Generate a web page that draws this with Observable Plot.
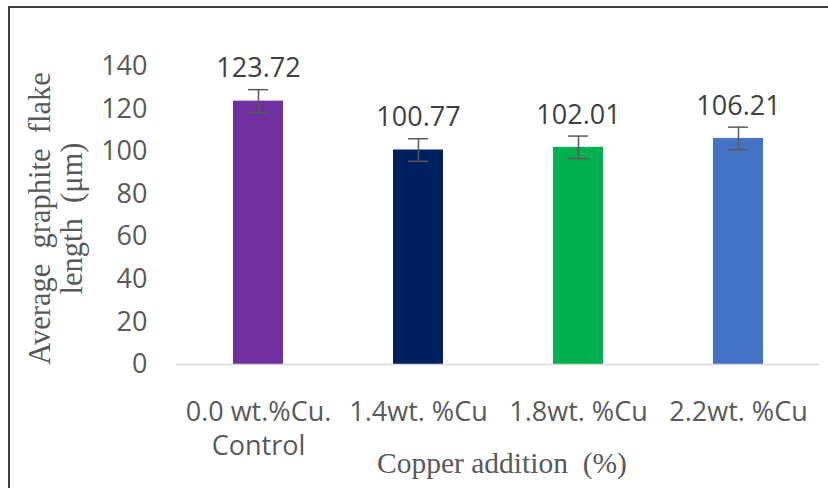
<!DOCTYPE html>
<html><head><meta charset="utf-8">
<script src="https://cdn.jsdelivr.net/npm/d3@7"></script>
<script src="https://cdn.jsdelivr.net/npm/@observablehq/plot@0.6"></script>
<style>
html,body{margin:0;padding:0;background:#fff;overflow:hidden;width:828px;height:488px}
#wrap{position:relative;width:828px;height:488px}
#border{position:absolute;left:8px;top:6px;width:900px;height:600px;border-left:2px solid #404040;border-top:2px solid #404040;pointer-events:none}
</style></head><body><div id="wrap"><div id="chart"></div><div id="border"></div></div>
<script>
const categories = ["0.0 wt.%Cu.\nControl", "1.4wt. %Cu", "1.8wt. %Cu", "2.2wt. %Cu"];
const values = [123.72, 100.77, 102.01, 106.21];
const errors = [5.4, 5.3, 5.3, 5.3];
const colors = ["#7030A0", "#002060", "#00B050", "#4472C4"];
const yTicks = [0, 20, 40, 60, 80, 100, 120, 140];
const yTitle = "Average  graphite  flake\nlength  (μm)";
const xTitle = "Copper addition  (%)";

const data = categories.map((c, i) => ({cat: c, value: values[i], err: errors[i], color: colors[i]}));
const sans = "'Open Sans', sans-serif";
const serif = "'Liberation Serif', 'Times New Roman', serif";

const chart = Plot.plot({
  width: 828, height: 488,
  marginLeft: 176, marginRight: 9, marginTop: 66, marginBottom: 124,
  style: {fontFamily: sans, color: "#595959", background: "transparent", whiteSpace: "pre"},
  x: {domain: categories, paddingInner: 0.69, paddingOuter: 0.345, axis: null},
  y: {domain: [0, 140], axis: null},
  color: {type: "identity"},
  marks: [
    Plot.barY(data, {x: "cat", y: "value", fill: "color"}),
    Plot.ruleY([0], {stroke: "#d9d9d9", strokeWidth: 1.5}),
    Plot.ruleX(data, {x: "cat", y1: d => d.value - d.err, y2: d => d.value + d.err, stroke: "#595959", strokeWidth: 1.5}),
    Plot.tickY(data, {x: "cat", y: d => d.value + d.err, stroke: "#595959", strokeWidth: 1.5, insetLeft: 15, insetRight: 15}),
    Plot.tickY(data, {x: "cat", y: d => d.value - d.err, stroke: "#595959", strokeWidth: 1.5, insetLeft: 15, insetRight: 15}),
    Plot.text(data, {x: "cat", y: d => d.value + d.err, text: d => d.value.toFixed(2), dy: -21, fontSize: 27, fill: "#404040"}),
    Plot.axisY({ticks: yTicks, tickSize: 0, tickPadding: 29, fontSize: 27, label: null, fill: "#595959"}),
    Plot.axisX({tickSize: 0, tickPadding: 33, fontSize: 27, lineHeight: 1.25, label: null, fill: "#595959"}),
    Plot.text([yTitle], {text: d => d, frameAnchor: "left", textAnchor: "middle", lineAnchor: "middle", rotate: -90, dx: -121, dy: 3, fontFamily: serif, fontSize: 30.5, lineHeight: 1.06, fill: "#595959"}),
    Plot.text([xTitle], {text: d => d, frameAnchor: "bottom", textAnchor: "middle", lineAnchor: "middle", dx: 4, dy: 99, fontFamily: serif, fontSize: 29.5, fill: "#595959"})
  ]
});
document.getElementById("chart").appendChild(chart);
</script>
</body></html>
